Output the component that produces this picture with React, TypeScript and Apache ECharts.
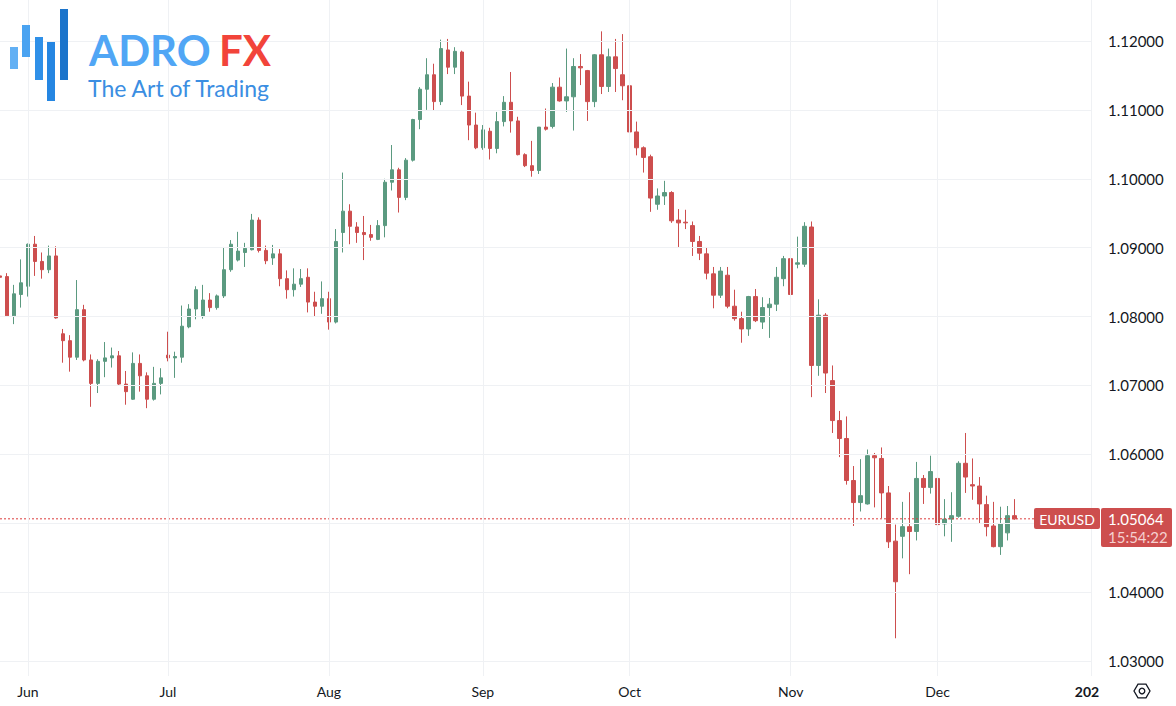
import React, { useEffect, useRef } from "react";
import * as echarts from "echarts";

const UP = "#5b9a80";
const DOWN = "#cd4e4e";
const GRID = "#eff1f4";
const TEXT = "#131722";

// Daily EURUSD bars, each [open, high, low, close]
const mayBars = [
  [1.0859, 1.0889, 1.0845, 1.0857],
  [1.0858, 1.0863, 1.08, 1.0801],
  [1.0801, 1.0846, 1.0789, 1.0833],
  [1.0832, 1.0883, 1.0813, 1.0849],
];
const junBars = [
  [1.0844, 1.0906, 1.0829, 1.0905],
  [1.0905, 1.0917, 1.0859, 1.088],
  [1.088, 1.0893, 1.0855, 1.0868],
  [1.0868, 1.0903, 1.0863, 1.0888],
  [1.0888, 1.0902, 1.0797, 1.0798],
  [1.0775, 1.0782, 1.0733, 1.0765],
  [1.0765, 1.0773, 1.072, 1.0741],
  [1.0741, 1.0853, 1.0737, 1.081],
  [1.081, 1.0817, 1.0735, 1.0737],
  [1.0737, 1.0745, 1.0669, 1.0703],
  [1.0703, 1.0738, 1.0689, 1.0735],
  [1.0735, 1.0763, 1.0712, 1.074],
  [1.074, 1.0755, 1.0726, 1.0743],
  [1.0743, 1.075, 1.07, 1.0702],
  [1.0702, 1.0721, 1.0672, 1.0691],
  [1.068, 1.0748, 1.0679, 1.0732],
  [1.0732, 1.0745, 1.0691, 1.0714],
  [1.0714, 1.0719, 1.0667, 1.068],
  [1.068, 1.0727, 1.0678, 1.0703],
  [1.0703, 1.0725, 1.0687, 1.0711],
];
const julBars = [
  [1.0744, 1.0778, 1.0735, 1.074],
  [1.074, 1.0749, 1.0711, 1.0742],
  [1.0741, 1.0816, 1.0733, 1.0786],
  [1.0785, 1.0818, 1.0783, 1.0811],
  [1.0811, 1.0844, 1.0796, 1.0839],
  [1.08, 1.0846, 1.0797, 1.0824],
  [1.0824, 1.0834, 1.0807, 1.0813],
  [1.0813, 1.0832, 1.081, 1.083],
  [1.083, 1.0901, 1.0827, 1.0868],
  [1.0868, 1.0911, 1.0865, 1.0905],
  [1.0882, 1.0923, 1.088, 1.0895],
  [1.0893, 1.0907, 1.0872, 1.0899],
  [1.0897, 1.0949, 1.0896, 1.094],
  [1.094, 1.0944, 1.0893, 1.0896],
  [1.0896, 1.0903, 1.0876, 1.0881],
  [1.0885, 1.0904, 1.0875, 1.0891],
  [1.0891, 1.0898, 1.0844, 1.0855],
  [1.0855, 1.0867, 1.0826, 1.0839],
  [1.0839, 1.087, 1.0829, 1.0847],
  [1.0847, 1.0869, 1.0843, 1.0855],
  [1.0857, 1.087, 1.0806, 1.0821],
  [1.0821, 1.0836, 1.08, 1.0815],
  [1.0815, 1.0851, 1.0804, 1.0826],
];
const augBars = [
  [1.0826, 1.0836, 1.0781, 1.0792],
  [1.0792, 1.0927, 1.079, 1.0909],
  [1.0922, 1.1009, 1.0893, 1.0953],
  [1.0953, 1.0963, 1.0905, 1.0931],
  [1.093, 1.0937, 1.0907, 1.0922],
  [1.0922, 1.0946, 1.0882, 1.0919],
  [1.0919, 1.0933, 1.091, 1.0915],
  [1.0912, 1.094, 1.0911, 1.0932],
  [1.0932, 1.1, 1.0915, 1.0995],
  [1.0995, 1.1049, 1.0983, 1.1013],
  [1.1013, 1.1016, 1.0951, 1.0973],
  [1.0973, 1.103, 1.0969, 1.1027],
  [1.1027, 1.1087, 1.1025, 1.1086],
  [1.1086, 1.1133, 1.1072, 1.113],
  [1.113, 1.1175, 1.11, 1.1151],
  [1.1151, 1.1167, 1.1099, 1.1112],
  [1.1112, 1.1202, 1.1107, 1.1189],
  [1.1187, 1.1203, 1.1152, 1.1162],
  [1.1162, 1.1191, 1.1152, 1.1185],
  [1.1184, 1.1186, 1.1107, 1.112],
  [1.112, 1.1141, 1.1056, 1.1078],
  [1.1078, 1.1096, 1.1043, 1.1045],
];
const sepBars = [
  [1.1045, 1.1078, 1.1042, 1.1071],
  [1.1069, 1.1074, 1.1028, 1.1044],
  [1.1044, 1.1097, 1.1037, 1.1083],
  [1.1083, 1.112, 1.1076, 1.1111],
  [1.1111, 1.1155, 1.1067, 1.1084],
  [1.1084, 1.109, 1.1034, 1.1035],
  [1.1035, 1.1037, 1.1017, 1.1019],
  [1.1019, 1.1055, 1.1003, 1.1012],
  [1.1012, 1.1075, 1.1007, 1.1075],
  [1.1075, 1.1102, 1.107, 1.1072],
  [1.1076, 1.1139, 1.1073, 1.1133],
  [1.1133, 1.1147, 1.1112, 1.1113],
  [1.1113, 1.1189, 1.1097, 1.1119],
  [1.1119, 1.1175, 1.107, 1.1163],
  [1.1163, 1.1181, 1.1136, 1.1161],
  [1.1157, 1.1158, 1.1084, 1.1112],
  [1.1112, 1.1181, 1.1104, 1.118],
  [1.118, 1.1214, 1.1123, 1.1134],
  [1.1134, 1.1189, 1.1126, 1.1177],
  [1.1177, 1.1203, 1.1126, 1.116],
  [1.1151, 1.121, 1.1114, 1.1135],
];
const octBars = [
  [1.1135, 1.1144, 1.1047, 1.1068],
  [1.1068, 1.1083, 1.1034, 1.1045],
  [1.1045, 1.1047, 1.1009, 1.1031],
  [1.1032, 1.1035, 1.0952, 1.0972],
  [1.0963, 1.0986, 1.0955, 1.0975],
  [1.0975, 1.0997, 1.0962, 1.098],
  [1.098, 1.0982, 1.0936, 1.0939],
  [1.094, 1.0956, 1.0901, 1.0936],
  [1.0937, 1.0955, 1.0927, 1.0936],
  [1.0932, 1.0938, 1.0888, 1.0909],
  [1.0909, 1.0917, 1.0882, 1.0892],
  [1.0891, 1.0901, 1.0854, 1.0863],
  [1.0862, 1.0872, 1.0812, 1.0831],
  [1.0831, 1.0872, 1.0827, 1.0866],
  [1.086, 1.0872, 1.0812, 1.0815],
  [1.0815, 1.0839, 1.0794, 1.0797],
  [1.0797, 1.0807, 1.0762, 1.0782],
  [1.0782, 1.083, 1.0772, 1.0829],
  [1.0829, 1.084, 1.0792, 1.0794],
  [1.0792, 1.0828, 1.0782, 1.0813],
  [1.0813, 1.0827, 1.0769, 1.0818],
  [1.0818, 1.0872, 1.0808, 1.0857],
  [1.0855, 1.0888, 1.0844, 1.0884],
];
const novBars = [
  [1.0884, 1.0907, 1.0831, 1.0832],
  [1.0876, 1.0916, 1.087, 1.0878],
  [1.0876, 1.0937, 1.0872, 1.0931],
  [1.093, 1.0938, 1.0683, 1.0729],
  [1.0729, 1.0825, 1.0714, 1.0802],
  [1.0802, 1.0805, 1.0689, 1.0718],
  [1.0707, 1.0729, 1.0631, 1.0649],
  [1.0649, 1.0663, 1.0596, 1.0623],
  [1.0623, 1.0655, 1.0556, 1.0562],
  [1.0562, 1.0583, 1.0496, 1.053],
  [1.053, 1.0593, 1.0517, 1.054],
  [1.0528, 1.0607, 1.0527, 1.0598],
  [1.0598, 1.0602, 1.0523, 1.0595],
  [1.0594, 1.061, 1.0507, 1.0544],
  [1.0544, 1.0554, 1.0464, 1.0473],
  [1.0474, 1.0498, 1.0333, 1.0415],
  [1.0481, 1.0531, 1.0449, 1.0495],
  [1.0495, 1.0545, 1.0426, 1.0488],
  [1.0488, 1.0589, 1.0475, 1.0565],
  [1.0565, 1.057, 1.0528, 1.0552],
  [1.0552, 1.0598, 1.0543, 1.0575],
];
const decBars = [
  [1.0565, 1.057, 1.0461, 1.0498],
  [1.0499, 1.0535, 1.0481, 1.0506],
  [1.0506, 1.0545, 1.0473, 1.0511],
  [1.051, 1.059, 1.0508, 1.0587],
  [1.0587, 1.0631, 1.0544, 1.0567],
  [1.0556, 1.0594, 1.0534, 1.0554],
  [1.0554, 1.0567, 1.05, 1.0528],
  [1.0527, 1.054, 1.0481, 1.0495],
  [1.0496, 1.0531, 1.0465, 1.0466],
  [1.0466, 1.0524, 1.0454, 1.0499],
  [1.0486, 1.0525, 1.0475, 1.0511],
  [1.0511, 1.0535, 1.0505, 1.05064],
];

const symbolName = "EURUSD";
const lastPrice = 1.05064;
const clockText = "15:54:22";
const gridPrices = [1.03, 1.04, 1.05, 1.06, 1.07, 1.08, 1.09, 1.1, 1.11, 1.12];
const labelPrices = [1.03, 1.04, 1.06, 1.07, 1.08, 1.09, 1.1, 1.11, 1.12];
const MONTHS = ["Jan", "Feb", "Mar", "Apr", "May", "Jun", "Jul", "Aug", "Sep", "Oct", "Nov", "Dec"];

// Weekday calendar starting 2024-05-28 (visible area incl. empty future bars)
function weekdayDates(y: number, m: number, d: number, count: number): string[] {
  const out: string[] = [];
  const t = new Date(Date.UTC(y, m, d));
  while (out.length < count) {
    const wd = t.getUTCDay();
    if (wd !== 0 && wd !== 6) {
      const mm = String(t.getUTCMonth() + 1).padStart(2, "0");
      const dd = String(t.getUTCDate()).padStart(2, "0");
      out.push(`${t.getUTCFullYear()}-${mm}-${dd}`);
    }
    t.setUTCDate(t.getUTCDate() + 1);
  }
  return out;
}

const dates = weekdayDates(2024, 4, 28, 157);
const bars = [...mayBars, ...junBars, ...julBars, ...augBars, ...sepBars, ...octBars, ...novBars, ...decBars];
const candleData = bars.map(([o, h, l, c]) => [o, c, l, h]);
const monthStarts = dates.filter((d, i) => i > 0 && d.slice(5, 7) !== dates[i - 1].slice(5, 7));
const monthStartSet = new Set(monthStarts);
const lastPriceLine = dates.map(() => lastPrice);

export default function App() {
  const ref = useRef<HTMLDivElement>(null);

  useEffect(() => {
    document.body.style.margin = "0";
    const el = ref.current;
    if (!el) return;
    const chart = echarts.init(el, undefined, { renderer: "svg" });
    const font = "Lato, 'Open Sans', sans-serif";
    const hexR = 8;
    const hexCx = 1142;
    const hexCy = 691;
    const hexPts: number[][] = [];
    for (let k = 0; k < 6; k++) {
      const a = (Math.PI / 3) * k;
      hexPts.push([hexCx + hexR * Math.cos(a), hexCy + hexR * Math.sin(a)]);
    }
    const logoBars = [
      { x: 10, y: 47, h: 22, c: "#62b0f4" },
      { x: 22, y: 25, h: 32, c: "#4aa3f1" },
      { x: 35, y: 37, h: 43, c: "#2f90e8" },
      { x: 47, y: 42, h: 59, c: "#2586e2" },
      { x: 60, y: 9, h: 71, c: "#1b74cb" },
    ];

    chart.setOption({
      animation: false,
      backgroundColor: "#ffffff",
      grid: { left: 0, right: 84.5, top: 0, bottom: 30 },
      xAxis: {
        type: "category",
        data: dates,
        boundaryGap: false,
        axisLine: { show: false },
        axisTick: { show: false },
        splitLine: { show: false },
        axisLabel: {
          interval: (_i: number, v: string) => monthStartSet.has(v),
          formatter: (v: string) => {
            const y = v.slice(0, 4);
            const m = parseInt(v.slice(5, 7), 10) - 1;
            if (y === "2025") return "{y|202}";
            return MONTHS[m];
          },
          color: TEXT,
          fontSize: 14,
          fontFamily: font,
          margin: 8,
          rich: {
            y: { fontWeight: "bold", fontSize: 14, color: TEXT, fontFamily: font, padding: [0, 9, 0, 0] },
          },
        },
      },
      yAxis: {
        type: "value",
        position: "right",
        min: 1.027823,
        max: 1.125951,
        scale: true,
        axisLine: { show: false },
        axisTick: { show: false, customValues: labelPrices },
        splitLine: { show: false },
        axisLabel: {
          customValues: labelPrices,
          formatter: (v: number) => v.toFixed(5),
          color: TEXT,
          fontSize: 15,
          fontFamily: font,
          margin: 16.5,
        },
      },
      series: [
        {
          type: "line",
          data: dates.map(() => null),
          symbol: "none",
          silent: true,
          z: 1,
          markLine: {
            silent: true,
            precision: 5,
            symbol: ["none", "none"],
            label: { show: false },
            lineStyle: { color: GRID, width: 1, type: "solid" },
            data: [
              ...gridPrices.map((p) => ({ yAxis: p })),
              ...monthStarts.map((d) => ({ xAxis: d })),
            ],
          },
        },
        {
          type: "candlestick",
          data: candleData,
          barWidth: 4,
          z: 3,
          itemStyle: {
            color: UP,
            color0: DOWN,
            borderColor: UP,
            borderColor0: DOWN,
            borderWidth: 1,
          },
        },
        {
          type: "line",
          data: lastPriceLine,
          symbol: "none",
          silent: true,
          z: 4,
          color: "#dc3c3c",
          lineStyle: { color: "#dc3c3c", width: 1, type: [2, 2] },
        },
      ],
      graphic: [
        ...logoBars.map((b) => ({
          type: "rect",
          shape: { x: b.x, y: b.y, width: 8, height: b.h },
          style: { fill: b.c },
          z: 10,
        })),
        {
          type: "text",
          x: 89,
          y: 50,
          z: 10,
          style: {
            text: "ADRO",
            font: "bold 42px Lato",
            fill: "#50a6f5",
            verticalAlign: "middle",
            align: "left",
          },
        },
        {
          type: "text",
          x: 219,
          y: 50,
          z: 10,
          style: {
            text: "FX",
            font: "bold 42px Lato",
            fill: "#f2443a",
            verticalAlign: "middle",
            align: "left",
          },
        },
        {
          type: "text",
          x: 88,
          y: 88,
          z: 10,
          style: {
            text: "The Art of Trading",
            font: "23px Lato",
            fill: "#3b8ee2",
            verticalAlign: "middle",
            align: "left",
          },
        },
        {
          type: "rect",
          shape: { x: 1034, y: 508, width: 66, height: 21, r: 2 },
          style: { fill: DOWN },
          z: 20,
        },
        {
          type: "text",
          x: 1067,
          y: 519,
          z: 21,
          style: {
            text: symbolName,
            font: `14px ${font}`,
            fill: "#ffffff",
            align: "center",
            verticalAlign: "middle",
          },
        },
        {
          type: "rect",
          shape: { x: 1101, y: 508, width: 71, height: 39, r: 2 },
          style: { fill: DOWN },
          z: 20,
        },
        {
          type: "text",
          x: 1108,
          y: 519,
          z: 21,
          style: {
            text: lastPrice.toFixed(5),
            font: `15px ${font}`,
            fill: "#ffffff",
            align: "left",
            verticalAlign: "middle",
          },
        },
        {
          type: "text",
          x: 1108,
          y: 537,
          z: 21,
          style: {
            text: clockText,
            font: `15px ${font}`,
            fill: "#f5d0d0",
            align: "left",
            verticalAlign: "middle",
          },
        },
        {
          type: "polygon",
          shape: { points: hexPts },
          style: { fill: "none", stroke: TEXT, lineWidth: 1.3 },
          z: 10,
        },
        {
          type: "circle",
          shape: { cx: hexCx, cy: hexCy, r: 2.8 },
          style: { fill: "none", stroke: TEXT, lineWidth: 1.3 },
          z: 10,
        },
      ],
    });
    return () => chart.dispose();
  }, []);

  return <div ref={ref} style={{ width: 1176, height: 706 }} />;
}
